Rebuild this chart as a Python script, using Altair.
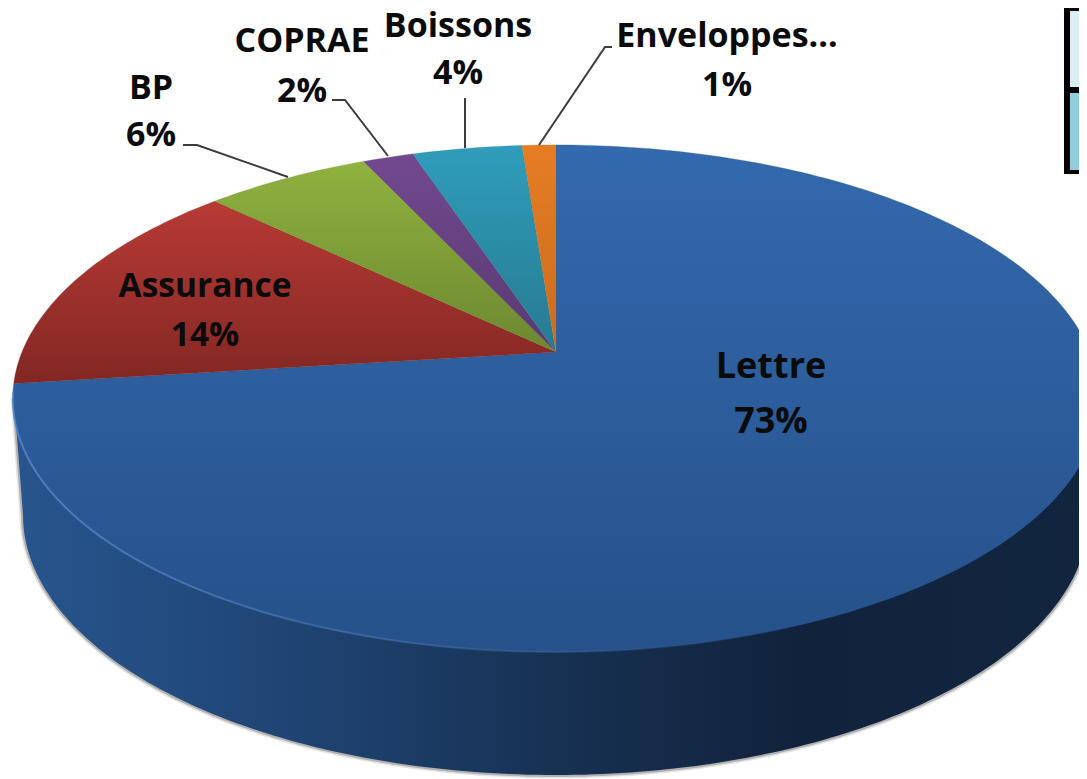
import math
import altair as alt
import pandas as pd

names = ["Lettre", "Assurance", "BP", "COPRAE", "Boissons", "Enveloppes..."]
values = [73.0, 14.2, 5.9, 1.8, 3.9, 1.2]
pct_labels = ["73%", "14%", "6%", "2%", "4%", "1%"]
top_colors = ["#3369AE", "#B83A35", "#90B23F", "#72498F", "#2F9DBB", "#E67D24"]
bot_colors = ["#26518A", "#822723", "#6C8830", "#583A70", "#277A90", "#C96C1E"]

name_xy = [(771, 367), (205, 287), (151, 89), (302, 42), (458, 27), (727, 37)]
pct_xy = [(771, 422), (205, 336), (151, 136), (302, 92), (458, 74), (727, 86)]
font_sizes = [36, 33.5, 34, 34, 34, 34]

leaders = [
    [(183, 145), (197, 145), (288, 177)],
    [(332, 100), (345, 100), (388, 156)],
    [(465, 98), (465, 148)],
    [(612, 47), (605, 47), (539, 145)],
]

CX, CY, A, B, C = 556.0, 352.0, 245.0, 534.0, 0.1834
BX, BY, BRX, BRY = 556.0, 515.0, 533.0, 260.0


def top_pt(pct):
    t = math.radians(pct * 3.6)
    sx, cy = math.sin(t), math.cos(t)
    d = 1 + C * cy
    return CX + B * sx / d, CY - A * cy / d


def frame(points):
    return pd.DataFrame([{"px": p[0], "py": p[1], "i": i} for i, p in enumerate(points)])


X = alt.X("px:Q", axis=None, scale=alt.Scale(domain=[8, 1079], nice=False, zero=False))
Y = alt.Y("py:Q", axis=None, scale=alt.Scale(domain=[779, 8], nice=False, zero=False))
O = alt.Order("i:Q")


def poly(points, **kw):
    return alt.Chart(frame(points)).mark_line(clip=True, interpolate="linear", **kw).encode(x=X, y=Y, order=O)


def vgrad(c1, c2):
    return alt.Gradient(gradient="linear", x1=0, y1=0, x2=0, y2=1,
                        stops=[alt.GradientStop(color=c1, offset=0), alt.GradientStop(color=c2, offset=1)])


# lower rim
rim = [(BX - BRX * math.cos(math.radians(a)), BY + BRY * math.sin(math.radians(a))) for a in range(0, 181)]
outline = [(14, 398)] + rim + [(1098, 398)]
wall_pts = outline + [(14, 398)]
wall_grad = alt.Gradient(
    gradient="linear", x1=0, y1=0, x2=1, y2=0,
    stops=[
        alt.GradientStop(color="#28558E", offset=0),
        alt.GradientStop(color="#1F4473", offset=0.26),
        alt.GradientStop(color="#173153", offset=0.5),
        alt.GradientStop(color="#11233C", offset=0.72),
        alt.GradientStop(color="#12253F", offset=1),
    ],
)
layers = [
    poly(outline, stroke="#000000", strokeWidth=7, opacity=0.10, fill="transparent"),
    poly(outline, stroke="#000000", strokeWidth=4, opacity=0.22, fill="transparent"),
    poly(wall_pts, fill=wall_grad, strokeWidth=0, filled=True),
]

# top wedges
start = 0.0
for val, c1, c2 in zip(values, top_colors, bot_colors):
    n = max(4, int(val * 3.6))
    arc = [top_pt(start + val * k / n) for k in range(n + 1)]
    pts = [(CX, CY)] + arc + [(CX, CY)]
    layers.append(poly(pts, fill=vgrad(c1, c2), stroke=c2, strokeWidth=0.3, filled=True))
    start += val

# light rim on the front edge
edge = [top_pt(p / 2) for p in range(90, 146)]
edge_stroke = alt.Gradient(
    gradient="linear", x1=0, y1=0, x2=1, y2=0,
    stops=[alt.GradientStop(color="rgba(90,140,205,0.75)", offset=0),
           alt.GradientStop(color="rgba(90,140,205,0.0)", offset=1)],
)
layers.append(poly(edge, stroke=edge_stroke, strokeWidth=2, fill="transparent"))

# leader lines
for pts in leaders:
    layers.append(poly(pts, stroke="#3c3c3c", strokeWidth=2, fill="transparent"))

# table fragment
rects = [
    dict(px=1064, px2=1079, py=5, py2=174, c="#000000"),
    dict(px=1070, px2=1079, py=11, py2=87, c="#DAEEF3"),
    dict(px=1070, px2=1079, py=93, py2=170, c="#92CDDC"),
]
layers.append(
    alt.Chart(pd.DataFrame(rects)).mark_rect(clip=True).encode(
        x=X, x2="px2:Q", y=Y, y2="py2:Q", color=alt.Color("c:N", scale=None, legend=None)
    )
)

# text
rows = []
for n, p, a, b, fs in zip(names, pct_labels, name_xy, pct_xy, font_sizes):
    rows.append(dict(t=n, px=a[0], py=a[1], fs=fs))
    rows.append(dict(t=p, px=b[0], py=b[1], fs=fs))
layers.append(
    alt.Chart(pd.DataFrame(rows)).mark_text(
        font="Open Sans", fontWeight="bold", color="#0b0b0b", align="center", baseline="middle"
    ).encode(x=X, y=Y, text="t:N", size=alt.Size("fs:Q", scale=None, legend=None))
)

chart = alt.layer(*layers).properties(
    width=1071, height=771, padding=0,
    autosize=alt.AutoSizeParams(type="none"),
).configure_view(stroke=None)

chart.save("out.html", embed_options={"renderer": "svg", "actions": False})
